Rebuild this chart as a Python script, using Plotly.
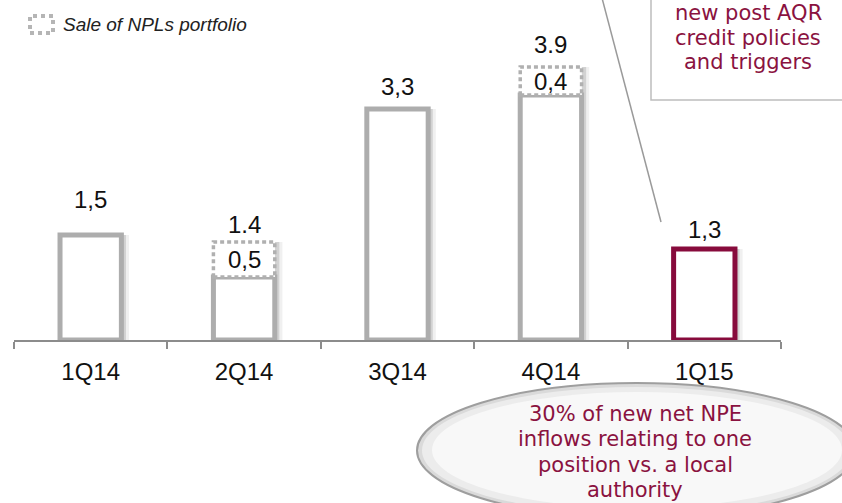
import plotly.graph_objects as go

# data
quarters = ["1Q14", "2Q14", "3Q14", "4Q14", "1Q15"]
core_npe = [1.5, 0.9, 3.3, 3.5, 1.3]
npl_sale = [0, 0.5, 0, 0.4, 0]
total_labels = ["1,5", "1.4", "3,3", "3.9", "1,3"]
sale_labels = ["", "0,5", "", "0,4", ""]

totals = [c + s for c, s in zip(core_npe, npl_sale)]

# page geometry (px)
W, H = 842, 503
L, R, T, B = 14, 61, 0, 163
PW, PH = W - L - R, H - T - B
PX_PER_UNIT = 70

def xp(x):
    return (x - L) / PW

def yp(y):
    return (PH + T - y) / PH

GREY = "#ADADAD"
MAROON = "#870B3C"
TEXT_RED = "#8A1240"
bar_w = 0.4
line_colors = [GREY] * 4 + [MAROON]

fig = go.Figure()

# soft shadow on the right of every bar
for off, alpha in [(0.05, 0.06), (0.03, 0.12)]:
    fig.add_trace(go.Bar(
        x=quarters, y=totals, width=bar_w, offset=-bar_w / 2 + off,
        marker=dict(color=f"rgba(0,0,0,{alpha})", line=dict(width=0)),
        hoverinfo="skip", showlegend=False))

# main bars
fig.add_trace(go.Bar(
    x=quarters, y=core_npe, width=bar_w, offset=-bar_w / 2,
    marker=dict(color="white", line=dict(color=line_colors, width=5)),
    showlegend=False))

# NPL sale part on top
fig.add_trace(go.Bar(
    x=quarters, y=npl_sale, base=core_npe, width=bar_w, offset=-bar_w / 2,
    marker=dict(color="white", line=dict(width=0)),
    showlegend=False))

shapes = []
for i, (c, s) in enumerate(zip(core_npe, npl_sale)):
    if s > 0:
        shapes.append(dict(type="rect", xref="x", yref="y",
                           x0=i - bar_w / 2, x1=i + bar_w / 2, y0=c, y1=c + s,
                           fillcolor="white", layer="above",
                           line=dict(color="#B0B0B0", width=3.5, dash="4px,3px")))

# callout box top right and pointer
shapes.append(dict(type="rect", xref="paper", yref="paper",
                   x0=xp(651), x1=xp(855), y0=yp(100), y1=yp(-10),
                   fillcolor="white", line=dict(color="#BDBDBD", width=1.5)))
shapes.append(dict(type="line", xref="paper", yref="paper",
                   x0=xp(602), y0=yp(-2), x1=xp(661), y1=yp(222),
                   line=dict(color="#9A9A9A", width=1.5)))

# ellipse callout bottom right
shapes.append(dict(type="circle", xref="paper", yref="paper",
                   x0=xp(417), x1=xp(856), y0=yp(518), y1=yp(383),
                   fillcolor="#DADADA", line=dict(color="#9E9E9E", width=2)))
shapes.append(dict(type="circle", xref="paper", yref="paper",
                   x0=xp(422), x1=xp(851), y0=yp(514), y1=yp(387),
                   fillcolor="#ECECEC", line=dict(width=0)))
shapes.append(dict(type="circle", xref="paper", yref="paper",
                   x0=xp(432), x1=xp(842), y0=yp(508), y1=yp(392),
                   fillcolor="#F8F8F8", line=dict(width=0)))

# legend key
shapes.append(dict(type="rect", xref="paper", yref="paper",
                   x0=xp(30), x1=xp(53), y0=yp(33), y1=yp(16),
                   line=dict(color="#B5B5B5", width=4, dash="4px,4px")))

annotations = []
label_shift = [20, 2, 7, 7, 4]
for q, t, lab, sh in zip(quarters, totals, total_labels, label_shift):
    annotations.append(dict(x=q, y=t, xref="x", yref="y", text=lab,
                            showarrow=False, yanchor="bottom", yshift=sh,
                            font=dict(family="Liberation Sans, Arial", size=24, color="#111")))
for q, c, s, lab in zip(quarters, core_npe, npl_sale, sale_labels):
    if s > 0:
        annotations.append(dict(x=q, y=c + s / 2, xref="x", yref="y", text=lab,
                                showarrow=False, yanchor="middle",
                                font=dict(family="Liberation Sans, Arial", size=24, color="#111")))

annotations.append(dict(x=xp(61), y=yp(25), xref="paper", yref="paper",
                        text="<i>Sale of NPLs portfolio</i>", showarrow=False,
                        xanchor="left", yanchor="middle",
                        font=dict(family="Liberation Sans, Arial", size=19, color="#222")))

box_lines = ["new post AQR", "credit policies", "and triggers"]
for k, line in enumerate(box_lines):
    annotations.append(dict(x=xp(748), y=yp(13 + 24.5 * k), xref="paper", yref="paper",
                            text=line, showarrow=False, xanchor="center", yanchor="middle",
                            font=dict(family="DejaVu Sans, Verdana", size=21, color=TEXT_RED)))

ellipse_lines = ["30% of new net NPE", "inflows relating to one",
                 "position vs. a local", "authority"]
for k, line in enumerate(ellipse_lines):
    annotations.append(dict(x=xp(635), y=yp(414 + 25.3 * k), xref="paper", yref="paper",
                            text=line, showarrow=False, xanchor="center", yanchor="middle",
                            font=dict(family="DejaVu Sans, Verdana", size=21, color=TEXT_RED)))

fig.update_layout(
    width=W, height=H,
    margin=dict(l=L, r=R, t=T, b=B),
    paper_bgcolor="white", plot_bgcolor="white",
    barmode="overlay", bargap=0.6,
    shapes=shapes, annotations=annotations,
    xaxis=dict(type="category", categoryorder="array", categoryarray=quarters,
               range=[-0.5, 4.5], tickson="boundaries", ticks="outside",
               ticklen=7, tickwidth=1.5, tickcolor="#8C8C8C",
               showline=True, linecolor="#8C8C8C", linewidth=1.5,
               showgrid=False, fixedrange=True, ticklabelstandoff=9,
               tickfont=dict(family="Liberation Sans, Arial", size=24, color="#111")),
    yaxis=dict(visible=False, range=[0, PH / PX_PER_UNIT], fixedrange=True),
)

# drop the default page margin so the figure sits at the window's top-left corner
fig.write_html("out.html", config={"displayModeBar": False},
               post_script="document.body.style.margin='0';")
